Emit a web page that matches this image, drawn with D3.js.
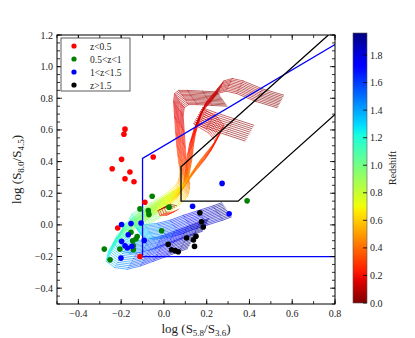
<!DOCTYPE html>
<html>
<head>
<meta charset="utf-8">
<script src="https://cdn.jsdelivr.net/npm/d3@7"></script>
<style>
  body { margin: 0; background: #fff; }
  svg text { font-family: "Liberation Serif", "DejaVu Serif", serif; fill: #222; }
</style>
</head>
<body>
<div id="chart"></div>
<script>
// ---- data ----
// model tracks: base track (redshift, x, y) + per-template shifts [dx, dy]
// A: left flags, drop at x~0.05
const trackAz = [0.00, 0.03, 0.06, 0.09, 0.12, 0.15, 0.19, 0.23, 0.27, 0.31, 0.35, 0.40, 0.45, 0.50, 0.55, 0.60, 0.70, 0.80, 0.90, 1.00, 1.10, 1.20, 1.30, 1.40, 1.50, 1.60, 1.70, 1.80, 1.90, 1.96];
const trackAx = [0.25, 0.18, 0.11, 0.07, 0.05, 0.045, 0.05, 0.055, 0.06, 0.065, 0.07, 0.075, 0.075, 0.07, 0.065, 0.055, 0.03, -0.01, -0.06, -0.11, -0.15, -0.16, -0.14, -0.09, -0.03, 0.03, 0.09, 0.16, 0.23, 0.27];
const trackAy = [0.84, 0.845, 0.85, 0.85, 0.83, 0.78, 0.68, 0.58, 0.50, 0.44, 0.39, 0.35, 0.32, 0.29, 0.27, 0.25, 0.22, 0.18, 0.14, 0.10, 0.07, 0.04, 0.01, 0.00, 0.01, 0.03, 0.06, 0.09, 0.12, 0.14];
const shiftsA = [[0, 0], [0.004, -0.008], [0.008, -0.016], [0.012, -0.025], [0.016, -0.033], [0.02, -0.041], [0.024, -0.049], [0.029, -0.057], [0.033, -0.065], [0.037, -0.074], [0.041, -0.082], [0.045, -0.09]];

// B: upper hump
const trackBz = [0.00, 0.03, 0.06, 0.08, 0.10, 0.12, 0.15, 0.19, 0.23, 0.27, 0.31, 0.35, 0.40, 0.45, 0.50, 0.55, 0.60, 0.70, 0.80, 0.90, 1.00, 1.10, 1.20, 1.30, 1.40, 1.50, 1.60, 1.70, 1.80, 1.90, 1.96];
const trackBx = [0.56, 0.46, 0.37, 0.32, 0.28, 0.25, 0.20, 0.17, 0.15, 0.14, 0.135, 0.13, 0.125, 0.12, 0.11, 0.10, 0.08, 0.04, -0.02, -0.08, -0.13, -0.18, -0.20, -0.18, -0.13, -0.07, -0.01, 0.05, 0.11, 0.17, 0.21];
const trackBy = [0.82, 0.86, 0.91, 0.925, 0.91, 0.86, 0.78, 0.68, 0.59, 0.52, 0.46, 0.41, 0.37, 0.33, 0.30, 0.27, 0.25, 0.21, 0.16, 0.11, 0.06, 0.01, -0.04, -0.08, -0.10, -0.09, -0.07, -0.04, -0.01, 0.02, 0.04];
const shiftsB = [[0, 0], [-0.003, -0.009], [-0.007, -0.018], [-0.01, -0.027], [-0.013, -0.036], [-0.017, -0.044], [-0.02, -0.053], [-0.023, -0.062], [-0.027, -0.071], [-0.03, -0.08]];

// C: lower flags
const trackCz = [0.00, 0.04, 0.08, 0.11, 0.14, 0.18, 0.22, 0.26, 0.30, 0.35, 0.40, 0.45, 0.50, 0.55, 0.60, 0.70, 0.80, 0.90, 1.00, 1.10, 1.20, 1.30, 1.40, 1.50, 1.60, 1.70, 1.80, 1.90, 1.96];
const trackCx = [0.42, 0.33, 0.24, 0.18, 0.20, 0.25, 0.28, 0.26, 0.23, 0.20, 0.17, 0.15, 0.13, 0.115, 0.10, 0.06, 0.00, -0.06, -0.12, -0.18, -0.22, -0.23, -0.19, -0.13, -0.07, -0.01, 0.05, 0.11, 0.15];
const trackCy = [0.63, 0.67, 0.71, 0.74, 0.72, 0.68, 0.63, 0.57, 0.51, 0.46, 0.41, 0.37, 0.33, 0.30, 0.27, 0.22, 0.17, 0.11, 0.05, -0.01, -0.07, -0.13, -0.17, -0.18, -0.16, -0.13, -0.10, -0.07, -0.05];
const shiftsC = [[0, 0], [-0.004, -0.011], [-0.009, -0.022], [-0.013, -0.033], [-0.018, -0.044], [-0.022, -0.056], [-0.027, -0.067], [-0.031, -0.078], [-0.036, -0.089], [-0.04, -0.1]];

// D: small low-redshift loops
const trackDz = [0.00, 0.06, 0.12, 0.18, 0.24, 0.30];
const trackDx = [0.06, 0.03, 0.00, 0.01, 0.04, 0.07];
const trackDy = [0.12, 0.13, 0.11, 0.08, 0.08, 0.10];
const shiftsD = [[0, 0], [-0.01, -0.008], [-0.02, -0.015], [-0.028, -0.02]];

// observed sources, by redshift bin
const redX = [-0.182, -0.187, -0.198, -0.242, -0.159, -0.182, -0.140, -0.050, -0.089, -0.216, -0.112];
const redY = [0.605, 0.573, 0.414, 0.355, 0.334, 0.292, 0.273, 0.429, 0.143, -0.020, -0.200];
const greenX = [-0.055, -0.112, -0.073, -0.070, 0.024, -0.011, -0.154, -0.125, -0.131, -0.146, -0.143, -0.143, -0.206, -0.279, -0.252, 0.389];
const greenY = [0.181, 0.101, 0.090, 0.065, 0.112, -0.037, -0.047, -0.073, -0.089, -0.100, -0.132, -0.157, -0.153, -0.153, -0.221, 0.152];
const blueX = [-0.198, -0.154, -0.107, -0.167, -0.092, -0.198, -0.182, -0.171, -0.150, -0.201, 0.272, 0.134, 0.305];
const blueY = [0.002, 0.008, 0.012, -0.062, -0.098, -0.104, -0.132, -0.146, -0.136, -0.210, 0.262, 0.118, 0.070];
const blackX = [0.168, 0.176, 0.184, 0.106, 0.150, 0.138, 0.143, 0.020, 0.036, 0.053, 0.067];
const blackY = [0.076, 0.020, -0.013, -0.083, -0.072, -0.095, -0.136, -0.122, -0.157, -0.163, -0.170];

// selection wedges
const lacyX = [0.8, -0.1, -0.1, 0.8];
const lacyY = [1.14, 0.42, -0.2, -0.2];
const donleyX = [0.769, 0.08, 0.08, 0.347, 0.8];
const donleyY = [1.2, 0.367, 0.15, 0.15, 0.698];

const xTicks = [-0.4, -0.2, 0.0, 0.2, 0.4, 0.6, 0.8];
const yTicks = [-0.4, -0.2, 0.0, 0.2, 0.4, 0.6, 0.8, 1.0, 1.2];
const zTicks = [0.0, 0.2, 0.4, 0.6, 0.8, 1.0, 1.2, 1.4, 1.6, 1.8];
const zMax = 1.96;

const legendLabels = ["z<0.5", "0.5<z<1", "1<z<1.5", "z>1.5"];
const legendColors = ["#f00", "#008000", "#00f", "#000"];

// ---- layout ----
const W = 415, H = 338;
const margin = { top: 35, right: 80, bottom: 34, left: 57 };
const pw = W - margin.left - margin.right;
const ph = H - margin.top - margin.bottom;

const svg = d3.select("#chart").append("svg")
  .attr("width", W).attr("height", H);

const x = d3.scaleLinear().domain([-0.5, 0.8]).range([margin.left, margin.left + pw]);
const y = d3.scaleLinear().domain([-0.5, 1.2]).range([margin.top + ph, margin.top]);

// matplotlib jet, reversed
const jr = d3.scaleLinear().domain([0, 0.35, 0.66, 0.89, 1]).range([0, 0, 1, 1, 0.5]).clamp(true);
const jg = d3.scaleLinear().domain([0, 0.125, 0.375, 0.64, 0.91, 1]).range([0, 0, 1, 1, 0, 0]).clamp(true);
const jb = d3.scaleLinear().domain([0, 0.11, 0.34, 0.65, 1]).range([0.5, 1, 1, 0, 0]).clamp(true);
const jet = t => d3.rgb(jr(t) * 255, jg(t) * 255, jb(t) * 255).toString();
const zColor = z => jet(1 - z / zMax);

svg.append("clipPath").attr("id", "clip").append("rect")
  .attr("x", margin.left).attr("y", margin.top).attr("width", pw).attr("height", ph);

const plot = svg.append("g").attr("clip-path", "url(#clip)");

// tracks
function segmentsFor(zs, xs, ys, shifts) {
  const segs = [];
  shifts.forEach(([dx, dy]) => {
    for (let i = 0; i < zs.length - 1; i++) {
      segs.push({
        x1: xs[i] + dx, y1: ys[i] + dy,
        x2: xs[i + 1] + dx, y2: ys[i + 1] + dy,
        z: (zs[i] + zs[i + 1]) / 2
      });
    }
  });
  return segs;
}
const segs = [].concat(
  segmentsFor(trackAz, trackAx, trackAy, shiftsA),
  segmentsFor(trackBz, trackBx, trackBy, shiftsB),
  segmentsFor(trackCz, trackCx, trackCy, shiftsC),
  segmentsFor(trackDz, trackDx, trackDy, shiftsD)
);
plot.append("g").selectAll("line")
  .data(segs)
  .join("line")
  .attr("x1", d => x(d.x1)).attr("y1", d => y(d.y1))
  .attr("x2", d => x(d.x2)).attr("y2", d => y(d.y2))
  .attr("stroke", d => zColor(d.z))
  .attr("stroke-width", 0.6)
  .attr("stroke-linecap", "round");

// wedges
const wedge = (xs, ys) => d3.line().x(i => x(xs[i])).y(i => y(ys[i]))(d3.range(xs.length));
plot.append("path").attr("d", wedge(lacyX, lacyY))
  .attr("fill", "none").attr("stroke", "#0000ff").attr("stroke-width", 1.3);
plot.append("path").attr("d", wedge(donleyX, donleyY))
  .attr("fill", "none").attr("stroke", "#000").attr("stroke-width", 1.3);

// points
const groups = [[redX, redY, "#f00"], [greenX, greenY, "#008000"], [blueX, blueY, "#00f"], [blackX, blackY, "#000"]];
groups.forEach(([xs, ys, c]) => {
  plot.append("g").selectAll("circle")
    .data(d3.range(xs.length))
    .join("circle")
    .attr("cx", i => x(xs[i])).attr("cy", i => y(ys[i]))
    .attr("r", 2.8).attr("fill", c);
});

// axes (ticks inward on all sides)
const fmt = d3.format(".1f");
const xMinor = d3.range(-0.5, 0.81, 0.1);
const yMinor = d3.range(-0.5, 1.21, 0.05);
const axes = svg.append("g");
function tickSet(vals, len, side) {
  vals.forEach(v => {
    if (side === "bottom") axes.append("line").attr("x1", x(v)).attr("x2", x(v)).attr("y1", y(-0.5)).attr("y2", y(-0.5) - len);
    if (side === "top") axes.append("line").attr("x1", x(v)).attr("x2", x(v)).attr("y1", y(1.2)).attr("y2", y(1.2) + len);
    if (side === "left") axes.append("line").attr("y1", y(v)).attr("y2", y(v)).attr("x1", x(-0.5)).attr("x2", x(-0.5) + len);
    if (side === "right") axes.append("line").attr("y1", y(v)).attr("y2", y(v)).attr("x1", x(0.8)).attr("x2", x(0.8) - len);
  });
}
tickSet(xTicks, 5, "bottom"); tickSet(xTicks, 5, "top");
tickSet(xMinor, 3, "bottom"); tickSet(xMinor, 3, "top");
tickSet(yTicks, 5, "left"); tickSet(yTicks, 5, "right");
tickSet(yMinor, 3, "left"); tickSet(yMinor, 3, "right");
axes.selectAll("line").attr("stroke", "#000").attr("stroke-width", 0.8);
axes.append("rect").attr("x", margin.left).attr("y", margin.top)
  .attr("width", pw).attr("height", ph)
  .attr("fill", "none").attr("stroke", "#000").attr("stroke-width", 1);

svg.append("g").selectAll("text").data(xTicks).join("text")
  .attr("x", d => x(d)).attr("y", y(-0.5) + 13)
  .attr("text-anchor", "middle").attr("font-size", 10)
  .text(d => fmt(d).replace("-", "\u2212"));
svg.append("g").selectAll("text").data(yTicks).join("text")
  .attr("x", x(-0.5) - 4).attr("y", d => y(d) + 3.5)
  .attr("text-anchor", "end").attr("font-size", 10)
  .text(d => fmt(d).replace("-", "\u2212"));

// axis titles
const xt = svg.append("text").attr("x", x(0.15)).attr("y", 333)
  .attr("text-anchor", "middle").attr("font-size", 13);
xt.append("tspan").text("log (S");
xt.append("tspan").attr("font-size", 9).attr("dy", 3).text("5.8");
xt.append("tspan").attr("dy", -3).text("/S");
xt.append("tspan").attr("font-size", 9).attr("dy", 3).text("3.6");
xt.append("tspan").attr("dy", -3).text(")");

const yt = svg.append("text").attr("transform", `translate(21,${y(0.35)}) rotate(-90)`)
  .attr("text-anchor", "middle").attr("font-size", 13);
yt.append("tspan").text("log (S");
yt.append("tspan").attr("font-size", 9).attr("dy", 3).text("8.0");
yt.append("tspan").attr("dy", -3).text("/S");
yt.append("tspan").attr("font-size", 9).attr("dy", 3).text("4.5");
yt.append("tspan").attr("dy", -3).text(")");

// legend
const lg = svg.append("g");
lg.append("rect").attr("x", 61).attr("y", 38).attr("width", 69).attr("height", 53)
  .attr("fill", "#fff").attr("stroke", "#333").attr("stroke-width", 0.8);
legendLabels.forEach((t, i) => {
  lg.append("circle").attr("cx", 74).attr("cy", 46 + i * 13).attr("r", 2.6).attr("fill", legendColors[i]);
  lg.append("text").attr("x", 90).attr("y", 49.5 + i * 13).attr("font-size", 9.5).text(t);
});

// colorbar
const cbX = 353, cbW = 14;
const zc = d3.scaleLinear().domain([0, zMax]).range([303, 33]);
const grad = svg.append("defs").append("linearGradient").attr("id", "cb")
  .attr("x1", 0).attr("y1", 0).attr("x2", 0).attr("y2", 1);
d3.range(0, 1.0001, 0.02).forEach(t => {
  grad.append("stop").attr("offset", t).attr("stop-color", jet(t));
});
svg.append("rect").attr("x", cbX).attr("y", zc(zMax)).attr("width", cbW).attr("height", zc(0) - zc(zMax))
  .attr("fill", "url(#cb)").attr("stroke", "#555").attr("stroke-width", 0.6);
svg.append("g").selectAll("line").data(zTicks).join("line")
  .attr("x1", cbX + cbW - 4).attr("x2", cbX + cbW)
  .attr("y1", d => zc(d)).attr("y2", d => zc(d))
  .attr("stroke", "#000").attr("stroke-width", 0.8);
svg.append("g").selectAll("text").data(zTicks).join("text")
  .attr("x", cbX + cbW + 3).attr("y", d => zc(d) + 3.5)
  .attr("font-size", 10).text(d => fmt(d));
svg.append("text").attr("transform", `translate(396,${zc(zMax / 2)}) rotate(-90)`)
  .attr("text-anchor", "middle").attr("font-size", 10).text("Redshift");
</script>
</body>
</html>
